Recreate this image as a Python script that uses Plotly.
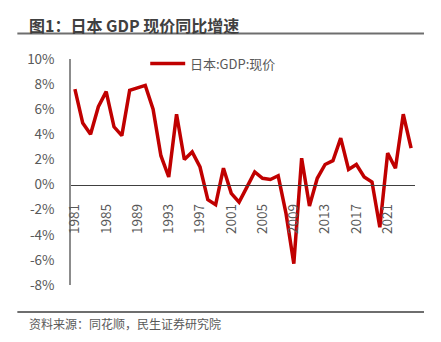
import plotly.graph_objects as go

# Japan nominal GDP, year-on-year growth (%)
years = [str(y) for y in range(1981, 2025)]
gdp_nominal_yoy = [
    7.6, 4.9, 4.0, 6.2, 7.4, 4.6, 3.9, 7.5, 7.7, 7.9,
    6.0, 2.3, 0.6, 5.6, 2.0, 2.6, 1.4, -1.2, -1.6, 1.3,
    -0.7, -1.4, -0.2, 1.0, 0.5, 0.4, 0.7, -2.3, -6.3, 2.1,
    -1.7, 0.5, 1.6, 1.9, 3.7, 1.2, 1.6, 0.6, 0.2, -3.4,
    2.5, 1.3, 5.6, 2.9,
]
tick_years = [str(y) for y in range(1981, 2025, 4)]
y_ticks = list(range(-8, 11, 2))
y_tick_text = [f"{v}%" for v in y_ticks]

title_text = "图1：日本 GDP 现价同比增速"
source_text = "资料来源：同花顺，民生证券研究院"
series_name = "日本:GDP:现价"

W, H = 441, 342
L, R, T, B = 70.7, 26, 59, 57
plot_w = W - L - R
plot_h = H - T - B
y_min, y_max = -8, 10
zero_pos = (0 - y_min) / (y_max - y_min)

CJK = "Noto Sans CJK SC, Noto Sans, sans-serif"
GRAY = "#595959"
RED = "#C00000"


def px_x(px):
    return (px - L) / plot_w


def px_y(py):
    return (H - B - py) / plot_h


fig = go.Figure()
fig.add_trace(go.Scatter(
    x=years, y=gdp_nominal_yoy, mode="lines", name=series_name,
    line=dict(color=RED, width=3.5), showlegend=False,
))

fig.update_layout(
    width=W, height=H,
    margin=dict(l=L, r=R, t=T, b=B),
    paper_bgcolor="white", plot_bgcolor="white",
    font=dict(family=CJK, color=GRAY, size=13),
    xaxis=dict(
        type="category", categoryorder="array", categoryarray=years,
        range=[-0.5, len(years) - 0.5],
        tickmode="array", tickvals=tick_years, ticktext=tick_years,
        tickangle=-90, tickfont=dict(size=13.5, color=GRAY, family=CJK),
        showgrid=False, zeroline=False,
        showline=True, linecolor="#404040", linewidth=1.2,
        ticks="", anchor="free", position=zero_pos,
        ticklabelstandoff=13,
    ),
    yaxis=dict(
        range=[y_min, y_max],
        tickmode="array", tickvals=y_ticks, ticktext=y_tick_text,
        tickfont=dict(size=13.5, color=GRAY, family=CJK),
        showgrid=False, zeroline=False,
        showline=True, linecolor="#8C8C8C", linewidth=1.5,
        ticks="", ticklabelstandoff=12,
    ),
)

# Legend key drawn by hand: red stroke followed by series name
fig.add_shape(
    type="line", xref="paper", yref="paper",
    x0=px_x(150), x1=px_x(185), y0=px_y(63.5), y1=px_y(63.5),
    line=dict(color=RED, width=3.5),
)
fig.add_annotation(
    xref="paper", yref="paper", x=px_x(188), y=px_y(63.5),
    text=series_name, showarrow=False, xanchor="left", yanchor="middle",
    font=dict(size=13, color=GRAY, family=CJK),
)

# Header title and its rule
fig.add_annotation(
    xref="paper", yref="paper", x=px_x(27), y=px_y(25),
    text=f"<b>{title_text}</b>", showarrow=False, xanchor="left", yanchor="middle",
    font=dict(size=16, color="#404040", family=CJK),
)
fig.add_shape(
    type="line", xref="paper", yref="paper",
    x0=px_x(17), x1=px_x(424), y0=px_y(33.5), y1=px_y(33.5),
    line=dict(color="#6E6E6E", width=2),
)

# Footer rule and source note
fig.add_shape(
    type="line", xref="paper", yref="paper",
    x0=px_x(17), x1=px_x(424), y0=px_y(312), y1=px_y(312),
    line=dict(color="#6E6E6E", width=2),
)
fig.add_annotation(
    xref="paper", yref="paper", x=px_x(27), y=px_y(323),
    text=source_text, showarrow=False, xanchor="left", yanchor="middle",
    font=dict(size=12, color=GRAY, family=CJK),
)

fig.write_html("out.html")
